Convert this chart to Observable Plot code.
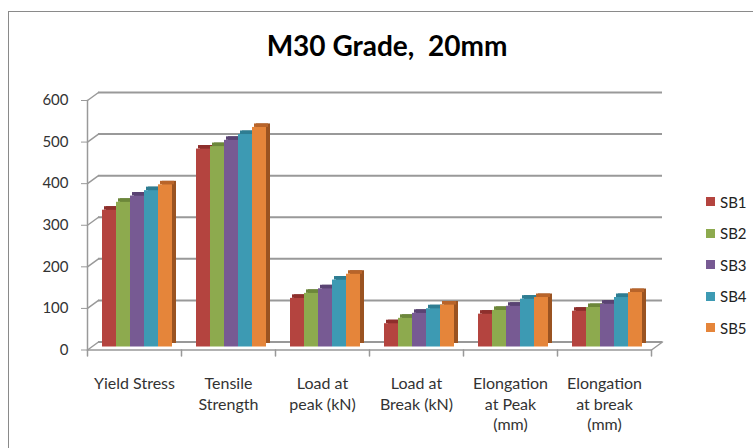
<!DOCTYPE html>
<html>
<head>
<meta charset="utf-8">
<script src="https://cdn.jsdelivr.net/npm/d3@7"></script>
<script src="https://cdn.jsdelivr.net/npm/@observablehq/plot@0.6"></script>
<style>
  html, body { margin: 0; padding: 0; background: #fff; overflow: hidden; }
  body { width: 753px; height: 448px; position: relative; font-family: Lato, sans-serif; }
  #border { position: absolute; left: 8px; top: 11px; width: 800px; height: 500px;
            border-left: 1.5px solid #8a8a8a; border-top: 1.5px solid #8a8a8a; }
  #title { position: absolute; left: 0; top: 28px; width: 774px; text-align: center;
           font: bold 28px Lato, sans-serif; color: #000; white-space: pre; line-height: 34px; }
  #chart { position: absolute; left: 0; top: 0; }
  #legend { position: absolute; left: 706px; top: 186px; font: 15px Lato, sans-serif; color: #222; }
  .item { display: flex; align-items: center; height: 31.5px; }
  .sw { width: 9px; height: 9px; margin-right: 5px; }
</style>
</head>
<body>
<div id="border"></div>
<div id="chart"></div>
<div id="title">M30 Grade,  20mm</div>
<div id="legend"></div>
<script>
const categories = ["Yield Stress", "Tensile Strength", "Load at peak (kN)", "Load at Break (kN)", "Elongation at Peak (mm)", "Elongation at break (mm)"];
const categoryLabels = ["Yield Stress", "Tensile\nStrength", "Load at\npeak (kN)", "Load at\nBreak (kN)", "Elongation\nat Peak\n(mm)", "Elongation\nat break\n(mm)"];
const series = ["SB1", "SB2", "SB3", "SB4", "SB5"];
const SB1 = [329, 476, 117, 56, 79, 86];
const SB2 = [348, 482, 129, 69, 88, 95];
const SB3 = [363, 497, 140, 81, 98, 103];
const SB4 = [376, 511, 161, 92, 115, 119];
const SB5 = [390, 528, 175, 101, 119, 131];
const yTicks = [0, 100, 200, 300, 400, 500, 600];

const frontColors = ["#B4443F", "#8DAA4E", "#775A93", "#3D9AB3", "#E5853A"];
const topColors   = ["#8E2F2C", "#6C873A", "#5A4373", "#2E7D92", "#B8642A"];
const sideColors  = ["#7A2825", "#5C7531", "#4A3862", "#266B7E", "#9A5321"];

const values = [SB1, SB2, SB3, SB4, SB5];
const rows = [];
series.forEach((s, si) => categories.forEach((c, ci) => rows.push({cat: c, series: s, si, value: values[si][ci]})));
const labelOf = new Map(categories.map((c, i) => [c, categoryLabels[i]]));

const lineShape = {draw(context, l) { context.moveTo(0, 0); context.lineTo(0, -l); }};
const gridColor = "#999";

const chart = Plot.plot({
  width: 680,
  height: 448,
  marginLeft: 86,
  marginRight: 29,
  marginTop: 97,
  marginBottom: 101.5,
  style: {background: "transparent", fontFamily: "Lato, sans-serif"},
  fx: {domain: categories, padding: 0, label: null, axis: null},
  x: {domain: series, paddingOuter: 0.758, paddingInner: 0, axis: null},
  y: {domain: [0, 600], axis: null},
  color: {type: "identity"},
  marks: [
    // back-wall gridlines
    Plot.ruleY(yTicks, {dx: 11, dy: -5, stroke: gridColor, strokeWidth: 2}),
    // left wall diagonals
    Plot.vector(yTicks, {y: d => d, frameAnchor: "left", facetAnchor: "left", dy: 3, length: 13.6, rotate: 54, anchor: "start", shape: lineShape, stroke: gridColor, strokeWidth: 1.5}),
    // floor right diagonal
    Plot.vector([0], {y: d => d, frameAnchor: "right", facetAnchor: "right", dy: 3, length: 13.6, rotate: 54, anchor: "start", shape: lineShape, stroke: gridColor, strokeWidth: 1.5}),
    // floor front edge
    Plot.ruleY([0], {dy: 3, stroke: gridColor, strokeWidth: 1.5}),
    // front vertical axis line
    Plot.frame({anchor: "left", facetAnchor: "left", dy: 3, stroke: gridColor, strokeWidth: 1.5}),
    // category boundary ticks
    Plot.vector([0], {y: d => d, frameAnchor: "left", dy: 3, length: 6, rotate: 180, anchor: "start", shape: lineShape, stroke: gridColor, strokeWidth: 1.5}),
    Plot.vector([0], {y: d => d, frameAnchor: "right", facetAnchor: "right", dy: 3, length: 6, rotate: 180, anchor: "start", shape: lineShape, stroke: gridColor, strokeWidth: 1.5}),
    // y axis
    Plot.axisY({ticks: yTicks, anchor: "left", tickSize: 6, tickPadding: 13, dy: 3, fontSize: 15, label: null, stroke: gridColor, fill: "#333"}),
    // fx axis
    Plot.axisFx({anchor: "bottom", tickSize: 0, tickPadding: 27, fontSize: 16, lineHeight: 1.3, label: null, fill: "#333", tickFormat: d => labelOf.get(d)}),
    // 3D side faces
    Plot.barY(rows, {fx: "cat", x: "series", y: "value", fill: d => sideColors[d.si], dx: 7, dy: -3.5}),
    // 3D top faces
    Plot.barY(rows, {fx: "cat", x: "series", y1: "value", y2: "value", insetTop: -3.5, dx: 5, fill: d => topColors[d.si]}),
    // front faces
    Plot.barY(rows, {fx: "cat", x: "series", y: "value", dx: 3, fill: d => frontColors[d.si]})
  ]
});
document.getElementById("chart").appendChild(chart);

const legend = document.getElementById("legend");
series.forEach((s, i) => {
  const item = document.createElement("div");
  item.className = "item";
  item.innerHTML = `<span class="sw" style="background:${frontColors[i]}"></span><span>${s}</span>`;
  legend.appendChild(item);
});
</script>
</body>
</html>
